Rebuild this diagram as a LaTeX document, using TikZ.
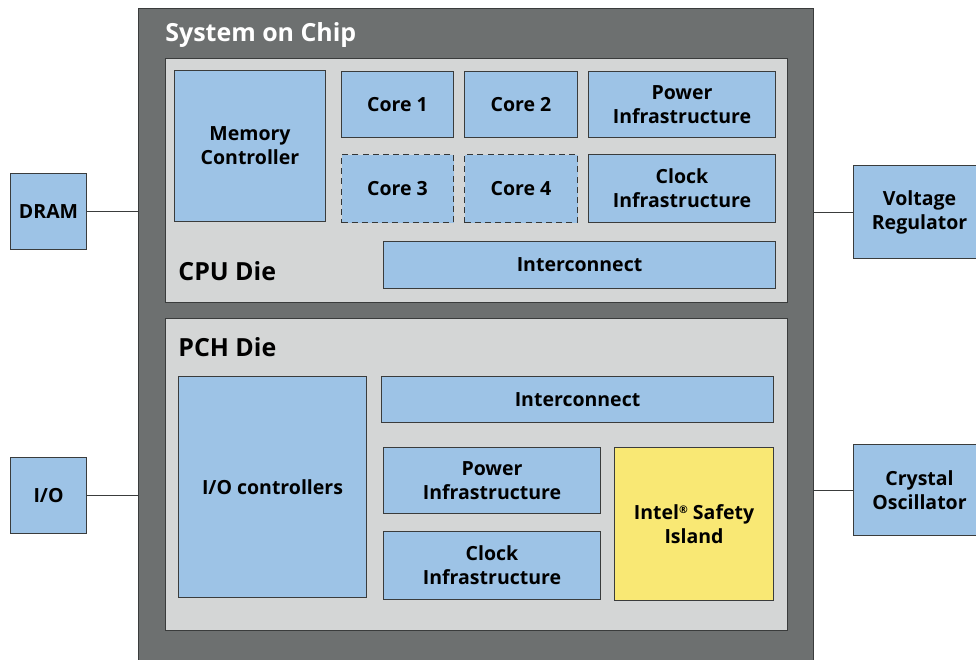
\documentclass[tikz,border=0pt]{standalone}
\usepackage{fontspec}
\setmainfont{Open Sans}
\usepackage{tikz}
\usetikzlibrary{positioning}
\definecolor{socgray}{HTML}{6D7070}
\definecolor{diegray}{HTML}{D4D6D6}
\definecolor{blk}{HTML}{9DC3E6}
\definecolor{safety}{HTML}{F9E874}
\definecolor{edge}{HTML}{3A3C3C}

\begin{document}
\begin{tikzpicture}[
  die/.style={draw=edge, fill=diegray, line width=0.5pt, anchor=north west, inner sep=0pt},
  blkbox/.style={draw=edge, fill=blk, line width=0.6pt, anchor=north west, align=center,
                 inner sep=2pt, font=\bfseries\fontsize{11.1}{13.6}\selectfont},
  ghost/.style={blkbox, draw=edge!90!black, dash pattern=on 3.4pt off 2.4pt},
  dielabel/.style={anchor=west, font=\bfseries\fontsize{14.2}{16}\selectfont, inner sep=0pt},
  wire/.style={draw=edge, line width=0.6pt},
]
\useasboundingbox (0,0) rectangle (19.52,-13.18);
% system on chip
\node[draw=edge, fill=socgray, line width=0.6pt, anchor=north west, inner sep=0pt,
      minimum width=13.50cm, minimum height=13.30cm] (soc) at (2.76,-0.16) {};
\node[anchor=west, text=white, inner sep=0pt, font=\bfseries\fontsize{14.2}{16}\selectfont]
  (soctitle) at (3.30,-0.70) {System on Chip};
% CPU die
\node[die, minimum width=12.44cm, minimum height=4.88cm] (cpu) at (3.30,-1.16) {};
\node[dielabel] (cpulabel) at (3.56,-5.42) {CPU Die};
\node[blkbox, minimum width=3.02cm, minimum height=3.02cm] (memctl) at (3.48,-1.40) {Memory\\Controller};
\node[blkbox, minimum width=2.24cm, minimum height=1.32cm] (core1) at (6.82,-1.42) {Core 1};
\node[blkbox, minimum width=2.26cm, minimum height=1.32cm] (core2) at (9.28,-1.42) {Core 2};
\node[blkbox, minimum width=3.74cm, minimum height=1.32cm] (cpupwr) at (11.76,-1.42) {Power\\Infrastructure};
\node[ghost, minimum width=2.24cm, minimum height=1.36cm] (core3) at (6.82,-3.08) {Core 3};
\node[ghost, minimum width=2.26cm, minimum height=1.36cm] (core4) at (9.28,-3.08) {Core 4};
\node[blkbox, minimum width=3.74cm, minimum height=1.36cm] (cpuclk) at (11.76,-3.08) {Clock\\Infrastructure};
\node[blkbox, minimum width=7.84cm, minimum height=0.94cm] (cpuic) at (7.66,-4.82) {Interconnect};
% PCH die
\node[die, minimum width=12.44cm, minimum height=6.24cm] (pch) at (3.30,-6.36) {};
\node[dielabel] (pchlabel) at (3.56,-6.94) {PCH Die};
\node[blkbox, minimum width=3.76cm, minimum height=4.42cm] (ioctl) at (3.56,-7.52) {I/O controllers};
\node[blkbox, minimum width=7.84cm, minimum height=0.92cm] (pchic) at (7.62,-7.52) {Interconnect};
\node[blkbox, minimum width=4.34cm, minimum height=1.32cm] (pchpwr) at (7.66,-8.94) {Power\\Infrastructure};
\node[blkbox, minimum width=4.34cm, minimum height=1.36cm] (pchclk) at (7.66,-10.62) {Clock\\Infrastructure};
\node[blkbox, fill=safety, minimum width=3.18cm, minimum height=3.06cm] (isi) at (12.28,-8.94)
  {Intel\raisebox{0.55ex}{\fontsize{6}{6}\selectfont\textregistered} Safety\\Island};
% off-chip parts
\node[blkbox, minimum width=1.52cm, minimum height=1.52cm] (dram) at (0.20,-3.46) {DRAM};
\node[blkbox, minimum width=1.52cm, minimum height=1.52cm] (io) at (0.20,-9.14) {I/O};
\node[blkbox, minimum width=2.64cm, minimum height=1.86cm] (vreg) at (17.06,-3.30) {Voltage\\Regulator};
\node[blkbox, minimum width=2.64cm, minimum height=1.82cm] (xtal) at (17.06,-8.88) {Crystal\\Oscillator};
% links
\draw[wire] (dram.east) -- (dram.east -| soc.west);
\draw[wire] (io.east) -- (io.east -| soc.west);
\draw[wire] (vreg.west) -- (vreg.west -| soc.east);
\draw[wire] (xtal.west) -- (xtal.west -| soc.east);
\end{tikzpicture}
\end{document}
